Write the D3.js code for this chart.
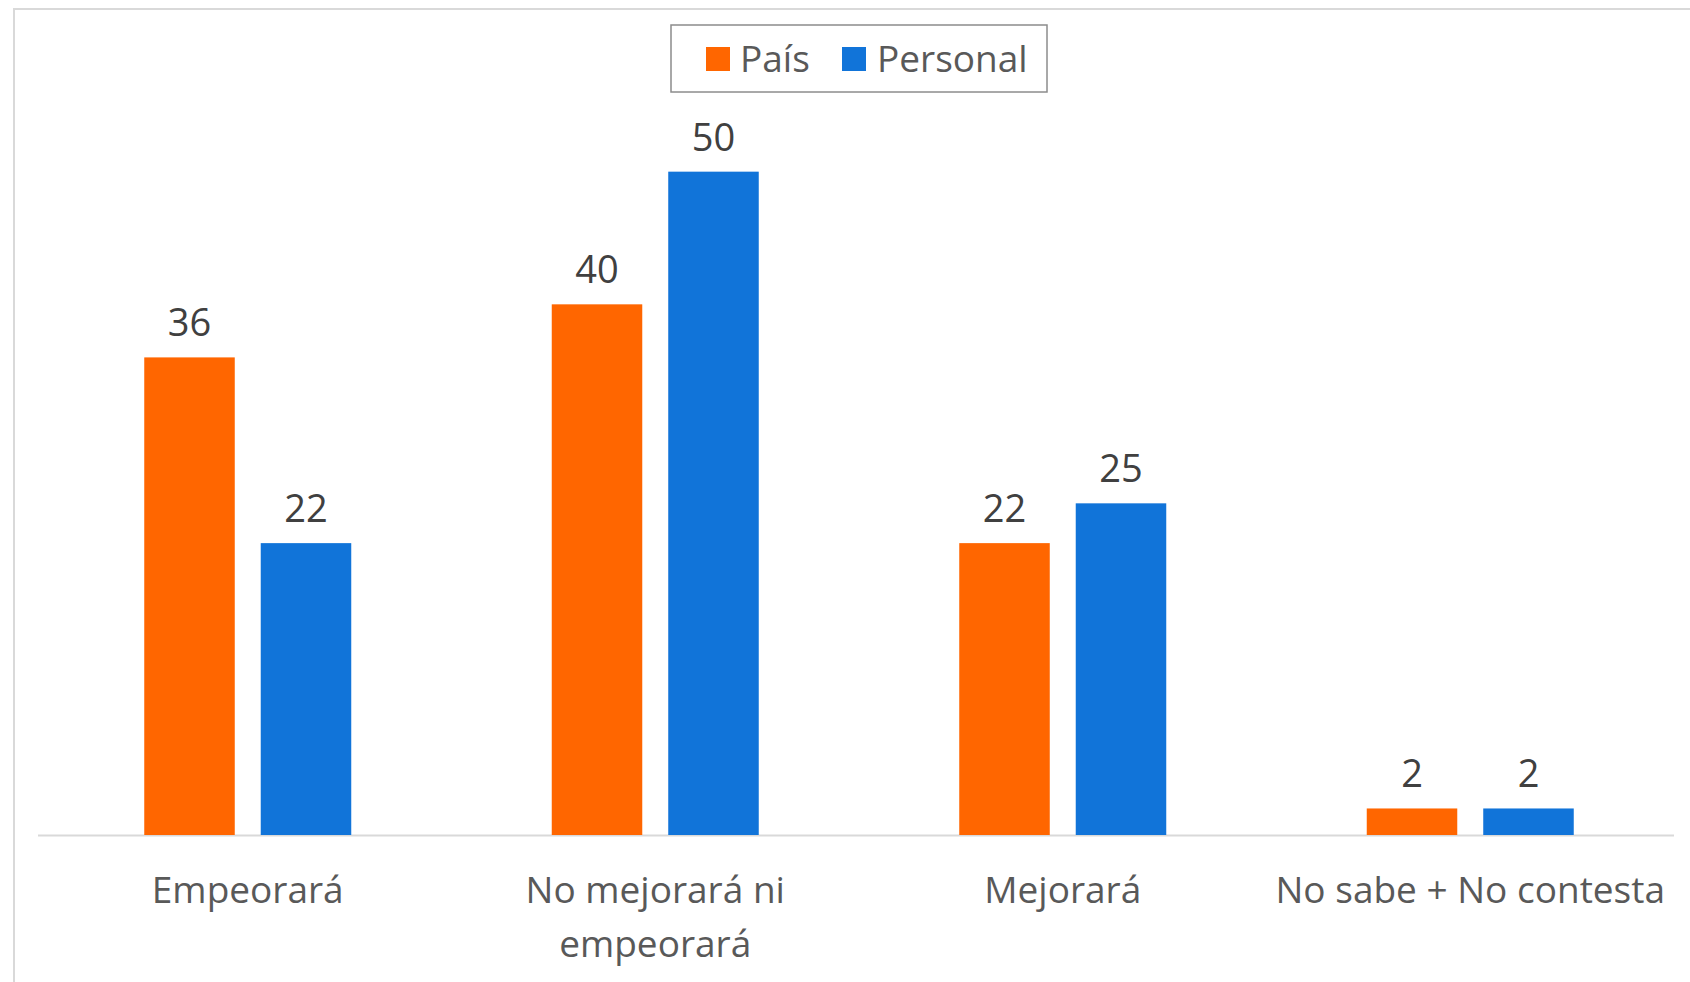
<!DOCTYPE html>
<html>
<head>
<meta charset="utf-8">
<script src="https://cdn.jsdelivr.net/npm/d3@7/dist/d3.min.js"></script>
<style>
  html, body { margin: 0; padding: 0; background: #ffffff; }
  svg { display: block; }
  text { font-family: "Open Sans", "Noto Sans", sans-serif; }
</style>
</head>
<body>
<svg id="chart" width="1690" height="982"></svg>
<script>
const categories = [["Empeorará"], ["No mejorará ni", "empeorará"], ["Mejorará"], ["No sabe + No contesta"]];
const seriesNames = ["País", "Personal"];
const paisValues = [36, 40, 22, 2];
const personalValues = [22, 50, 25, 2];
const seriesColors = ["#FF6600", "#1174D9"];

const W = 1690, H = 982;
const svg = d3.select("#chart");

// outer chart border
svg.append("rect")
  .attr("x", 14).attr("y", 9)
  .attr("width", W + 10).attr("height", H + 10)
  .attr("fill", "#ffffff")
  .attr("stroke", "#D9D9D9").attr("stroke-width", 2);

const plot = { left: 44, right: 1674, top: 39, bottom: 835 };

const catKeys = categories.map(c => c.join(" "));
const x0 = d3.scaleBand().domain(catKeys).range([plot.left, plot.right]).paddingInner(0).paddingOuter(0);
const groupW = 207;
const x1 = d3.scaleBand().domain(seriesNames).range([0, groupW]).paddingInner(0.223).paddingOuter(0);
const y = d3.scaleLinear().domain([0, 60]).range([plot.bottom, plot.top]);
const color = d3.scaleOrdinal().domain(seriesNames).range(seriesColors);

const data = catKeys.map((k, i) => ({
  key: k,
  lines: categories[i],
  values: [
    { series: seriesNames[0], value: paisValues[i] },
    { series: seriesNames[1], value: personalValues[i] }
  ]
}));

// axis line
svg.append("line")
  .attr("x1", plot.left - 6).attr("x2", plot.right)
  .attr("y1", y(0) + 0.5).attr("y2", y(0) + 0.5)
  .attr("stroke", "#D9D9D9").attr("stroke-width", 2);

const groups = svg.append("g").selectAll("g").data(data).join("g")
  .attr("transform", d => `translate(${x0(d.key) + (x0.bandwidth() - groupW) / 2},0)`);

groups.selectAll("rect").data(d => d.values).join("rect")
  .attr("x", d => x1(d.series))
  .attr("width", x1.bandwidth())
  .attr("y", d => y(d.value))
  .attr("height", d => y(0) - y(d.value))
  .attr("fill", d => color(d.series));

groups.selectAll("text.val").data(d => d.values).join("text")
  .attr("class", "val")
  .attr("x", d => x1(d.series) + x1.bandwidth() / 2)
  .attr("y", d => y(d.value) - 21)
  .attr("text-anchor", "middle")
  .attr("font-size", 38)
  .attr("fill", "#404040")
  .text(d => d.value);

// category labels
const catG = svg.append("g");
data.forEach(d => {
  const t = catG.append("text")
    .attr("x", x0(d.key) + x0.bandwidth() / 2)
    .attr("y", 903)
    .attr("text-anchor", "middle")
    .attr("font-size", 37)
    .attr("fill", "#595959");
  d.lines.forEach((ln, j) => {
    t.append("tspan")
      .attr("x", x0(d.key) + x0.bandwidth() / 2)
      .attr("dy", j === 0 ? 0 : 54)
      .text(ln);
  });
});

// legend
const leg = svg.append("g");
leg.append("rect")
  .attr("x", 671).attr("y", 25).attr("width", 376).attr("height", 67)
  .attr("fill", "#ffffff").attr("stroke", "#8C8C8C").attr("stroke-width", 1.5);
const legItems = [
  { name: seriesNames[0], sx: 706, tx: 740 },
  { name: seriesNames[1], sx: 842, tx: 877 }
];
legItems.forEach(it => {
  leg.append("rect").attr("x", it.sx).attr("y", 47).attr("width", 24).attr("height", 24)
    .attr("fill", color(it.name));
  leg.append("text").attr("x", it.tx).attr("y", 72)
    .attr("font-size", 37).attr("fill", "#595959").text(it.name);
});
</script>
</body>
</html>
